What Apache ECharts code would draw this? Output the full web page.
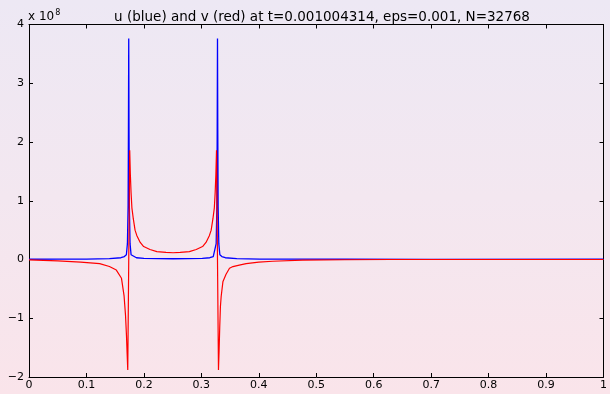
<!DOCTYPE html>
<html>
<head>
<meta charset="utf-8">
<script src="https://cdn.jsdelivr.net/npm/echarts@6/dist/echarts.min.js"></script>
<style>
  html, body { margin: 0; padding: 0; }
  #chart {
    width: 610px; height: 394px;
    background: linear-gradient(to bottom, #ede8f4 0%, #f3e7f0 50%, #fae4ea 100%);
  }
</style>
</head>
<body>
<div id="chart"></div>
<script>
// Title and axis scale
const titleText = 'u (blue) and v (red) at t=0.001004314, eps=0.001, N=32768';
const yExponent = '8';

// Axis ranges and tick steps (values on the y axis are in units of 10^8)
const xRange = [0, 1];
const xStep = 0.1;
const yRange = [-2, 4];
const yStep = 1;

// u(x): two narrow peaks
const uX = [
  0.000, 0.050, 0.100, 0.140, 0.1600, 0.1660, 0.1695, 0.1713, 0.1725, 0.1731,
  0.1736, 0.1741, 0.1747, 0.1759, 0.1777, 0.1810, 0.1870, 0.2000, 0.2250, 0.2508,
  0.2766, 0.3017, 0.3147, 0.3207, 0.3240, 0.3258, 0.3270, 0.3276, 0.3281, 0.3286,
  0.3292, 0.3304, 0.3322, 0.3357, 0.3417, 0.3617, 0.4017, 0.4517, 0.550, 0.700, 1.000
];
const uValues = [
  0.004, 0.005, 0.008, 0.015, 0.030, 0.050, 0.080, 0.270, 0.900, 2.200,
  3.760, 2.200, 0.900, 0.270, 0.080, 0.050, 0.030, 0.020, 0.015, 0.013,
  0.015, 0.020, 0.030, 0.050, 0.080, 0.270, 0.900, 2.200, 3.760, 2.200,
  0.900, 0.270, 0.080, 0.050, 0.030, 0.015, 0.008, 0.005, 0.004, 0.003, 0.004
];

// v(x): sign-changing lobes around each peak
const vX = [
  0.000, 0.050, 0.090, 0.123, 0.140, 0.152, 0.161, 0.1655, 0.1680, 0.1697, 0.1708, 0.1719,
  0.1753, 0.1764, 0.1776, 0.1791, 0.1816, 0.1846, 0.1876, 0.1936, 0.1996, 0.2106, 0.2226, 0.2386,
  0.2508,
  0.2631, 0.2791, 0.2911, 0.3021, 0.3081, 0.3141, 0.3171, 0.3201, 0.3226, 0.3241, 0.3253, 0.3264,
  0.3298, 0.3309, 0.3320, 0.3332, 0.3345, 0.3375, 0.3430, 0.3490, 0.3550, 0.3660, 0.3780, 0.4000,
  0.4240, 0.4760, 0.5500, 0.6300, 1.0000
];
const vValues = [
  -0.005, -0.025, -0.045, -0.070, -0.120, -0.180, -0.320, -0.620, -0.950, -1.300, -1.600, -1.880,
  1.860, 1.450, 1.150, 0.880, 0.690, 0.500, 0.410, 0.290, 0.220, 0.170, 0.135, 0.120,
  0.115,
  0.120, 0.135, 0.170, 0.220, 0.290, 0.410, 0.500, 0.690, 0.880, 1.150, 1.450, 1.860,
  -1.880, -1.550, -1.150, -0.800, -0.630, -0.380, -0.250, -0.150, -0.120, -0.095, -0.070, -0.045,
  -0.030, -0.010, -0.004, 0.000, 0.000
];

const pairs = (xs, ys) => xs.map((x, i) => [x, ys[i]]);
const FONT = '"DejaVu Sans", "Liberation Sans", Arial, sans-serif';
const minus = v => String(v).replace('-', '\u2212');

const grid = { left: 29, right: 5, top: 24.5, bottom: 17 };
const axisLine = { show: true, onZero: false, lineStyle: { color: '#000', width: 1 } };
const axisTick = { show: true, inside: true, length: 4, lineStyle: { color: '#000', width: 1 } };

const chart = echarts.init(document.getElementById('chart'), null, { renderer: 'canvas' });
chart.setOption({
  animation: false,
  backgroundColor: 'transparent',
  grid: grid,
  title: {
    text: titleText,
    left: 317, top: 5,
    textAlign: 'center',
    textStyle: { fontFamily: FONT, fontSize: 13.5, fontWeight: 'normal', color: '#000' }
  },
  graphic: [{
    type: 'text', left: 28, top: 9,
    style: {
      text: 'x 10{s|' + yExponent + '}',
      font: '12px ' + FONT, fill: '#000',
      rich: { s: { fontSize: 8, fontFamily: FONT, verticalAlign: 'top', padding: [0, 0, 7, 1] } }
    }
  }],
  xAxis: [{
    type: 'value', min: xRange[0], max: xRange[1], interval: xStep,
    position: 'bottom',
    axisLine: axisLine, axisTick: axisTick, splitLine: { show: false },
    axisLabel: { color: '#000', fontFamily: FONT, fontSize: 11, margin: 3 }
  }, {
    type: 'value', min: xRange[0], max: xRange[1], interval: xStep,
    position: 'top',
    axisLine: axisLine, axisTick: axisTick, splitLine: { show: false },
    axisLabel: { show: false }
  }],
  yAxis: [{
    type: 'value', min: yRange[0], max: yRange[1], interval: yStep,
    position: 'left',
    axisLine: axisLine, axisTick: axisTick, splitLine: { show: false },
    axisLabel: { color: '#000', fontFamily: FONT, fontSize: 11, margin: 5, formatter: minus }
  }, {
    type: 'value', min: yRange[0], max: yRange[1], interval: yStep,
    position: 'right',
    axisLine: axisLine, axisTick: axisTick, splitLine: { show: false },
    axisLabel: { show: false }
  }],
  series: [{
    name: 'u', type: 'line', xAxisIndex: 0, yAxisIndex: 0,
    data: pairs(uX, uValues),
    showSymbol: false, smooth: false,
    lineStyle: { color: '#0000ff', width: 1.3 },
    z: 2
  }, {
    name: 'v', type: 'line', xAxisIndex: 0, yAxisIndex: 0,
    data: pairs(vX, vValues),
    showSymbol: false, smooth: false,
    lineStyle: { color: '#ff0000', width: 1.2 },
    z: 3
  }]
});
</script>
</body>
</html>
